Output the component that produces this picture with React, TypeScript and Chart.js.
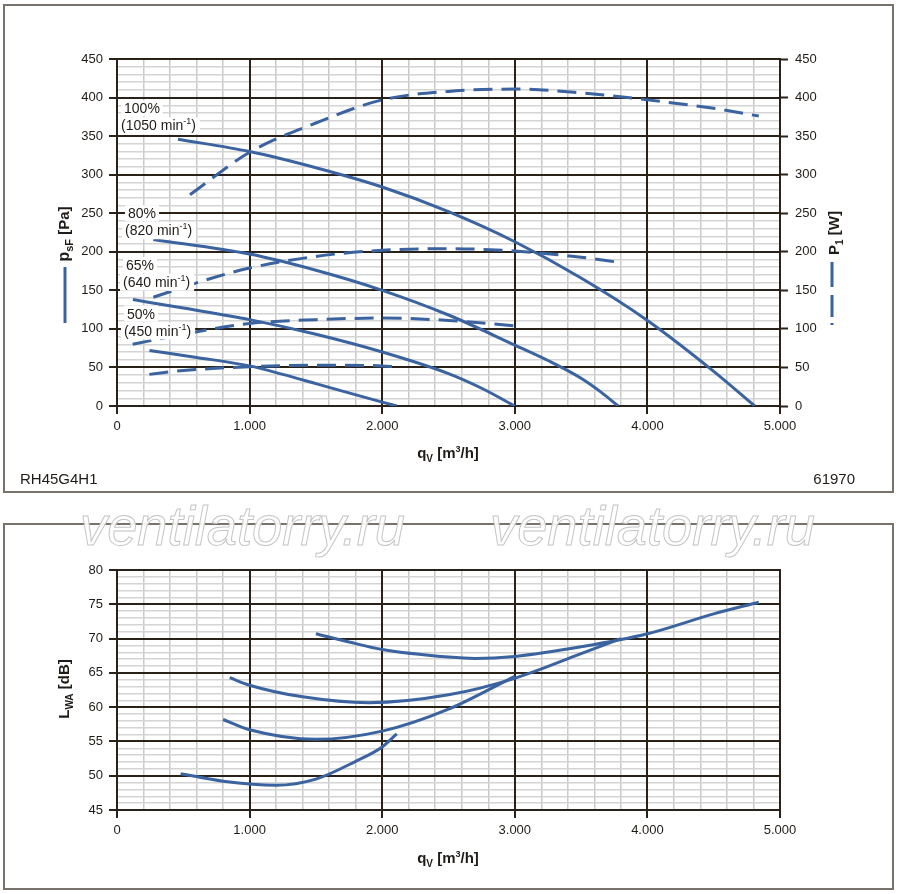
import React, { useEffect, useRef } from 'react';
import { Chart, ChartConfiguration, Plugin, registerables } from 'chart.js';

Chart.register(...registerables);

const BLUE = '#3a63a0';
const GRID_DARK = '#2a2118';
const GRID_LIGHT_V = '#c9c9c9';
const GRID_LIGHT_H = '#d4d4d4';
const TEXT = '#1f1b17';
const FONT = '"Liberation Sans", Arial, Helvetica, sans-serif';

// --- static pressure psF [Pa] over airflow qV [m³/h], one curve per speed
const q100 = [460, 1000, 1500, 2000, 2500, 3000, 3500, 4000, 4500, 4810];
const p100 = [346, 330, 309, 284, 252, 213, 166, 111, 45, 0];
const q80 = [274, 1000, 1500, 2000, 2500, 3000, 3250, 3500, 3650, 3780];
const p80 = [216, 197, 176, 150, 118, 79, 59, 36, 18, 0];
const q65 = [120, 500, 1000, 1500, 2000, 2500, 2750, 3000];
const p65 = [138, 127, 112, 93, 70, 42, 23, 0];
const q50 = [245, 600, 1000, 1250, 1500, 2000, 2110];
const p50 = [72, 63, 52, 41, 29, 5, 0];

// --- power input P1 [W]
const wq100 = [550, 1000, 1500, 2000, 2500, 3000, 3500, 4000, 4500, 4840];
const w100 = [274, 329, 367, 397, 408, 411, 406, 397, 386, 376];
const wq80 = [274, 700, 1000, 1500, 2000, 2500, 3000, 3500, 3800];
const w80 = [141, 165, 179, 194, 202, 204, 201, 193, 186];
const wq65 = [118, 500, 1000, 1500, 2000, 2500, 3000];
const w65 = [80, 93, 107, 112, 114, 111, 104];
const wq50 = [244, 500, 1000, 1500, 2000, 2100];
const w50 = [41, 46, 51, 53, 52, 51];

// --- sound power LWA [dB]
const lq100 = [1500, 1750, 2000, 2500, 2700, 3000, 3500, 4000, 4500, 4840];
const l100 = [70.7, 69.5, 68.4, 67.3, 67.1, 67.4, 68.8, 70.7, 73.6, 75.3];
const lq80 = [850, 1000, 1400, 1900, 2500, 3000, 3500, 3800];
const l80 = [64.3, 63.2, 61.5, 60.65, 61.8, 64.2, 67.8, 70];
const lq65 = [800, 1000, 1500, 2000, 2500, 3000];
const l65 = [58.2, 56.7, 55.3, 56.5, 59.7, 64.5];
const lq50 = [480, 800, 1200, 1500, 1800, 2000, 2110];
const l50 = [50.3, 49.2, 48.6, 49.5, 52.1, 54.2, 56.1];

// speed labels, anchored in data coordinates (qV, psF)
const speedPct = ['100%', '80%', '65%', '50%'];
const speedRpm = ['1050', '820', '640', '450'];
const labelQ = [53, 83, 68, 75];
const labelP = [386, 250, 183, 120];

const pts = (xs: number[], ys: number[]) => xs.map((x, i) => ({ x, y: ys[i] }));

const fmtQ = (v: number) => (v === 0 ? '0' : `${v / 1000}.000`);

type Part = { t: string; size: number; dy?: number };

function drawParts(
  ctx: CanvasRenderingContext2D,
  parts: Part[],
  x: number,
  y: number,
  align: 'left' | 'center' | 'right',
  bold = false,
  rotate = false
) {
  const weight = bold ? 'bold ' : '';
  const widths = parts.map(p => {
    ctx.font = `${weight}${p.size}px ${FONT}`;
    return ctx.measureText(p.t).width;
  });
  const total = widths.reduce((a, b) => a + b, 0);
  const mainSize = parts[0].size;
  ctx.save();
  ctx.translate(x, y);
  if (rotate) ctx.rotate(-Math.PI / 2);
  let cx = align === 'left' ? 0 : align === 'center' ? -total / 2 : -total;
  const base = mainSize * 0.36;
  ctx.textBaseline = 'alphabetic';
  ctx.textAlign = 'left';
  ctx.fillStyle = TEXT;
  parts.forEach((p, i) => {
    ctx.font = `${weight}${p.size}px ${FONT}`;
    ctx.fillText(p.t, cx, base + (p.dy || 0));
    cx += widths[i];
  });
  ctx.restore();
  return total;
}

const gridFor = (isMajor: (v: number) => boolean, light: string) => ({
  color: (c: any) => (isMajor(c.tick?.value) ? GRID_DARK : light),
  lineWidth: (c: any) => (isMajor(c.tick?.value) ? 2 : 1.5),
  tickColor: (c: any) => (isMajor(c.tick?.value) ? GRID_DARK : 'rgba(0,0,0,0)'),
  tickWidth: 2,
  tickLength: 8,
});

const tickFont = { family: FONT, size: 13 };

// redraw the thousand lines on top of the light horizontal grid
const majorVerticals: Plugin<'line'> = {
  id: 'majorVerticals',
  beforeDatasetsDraw(chart) {
    const { ctx, chartArea, scales } = chart;
    const xs = scales.x;
    ctx.save();
    ctx.strokeStyle = GRID_DARK;
    ctx.lineWidth = 2;
    xs.ticks.forEach(t => {
      if (t.value % 1000 !== 0) return;
      const px = Math.round(xs.getPixelForValue(t.value));
      ctx.beginPath();
      ctx.moveTo(px, chartArea.top - 1);
      ctx.lineTo(px, chartArea.bottom + 1);
      ctx.stroke();
    });
    ctx.restore();
  },
};

const xScale = (height: number) => ({
  type: 'linear' as const,
  min: 0,
  max: 5000,
  afterFit: (s: any) => {
    s.height = height;
  },
  ticks: {
    stepSize: 200,
    autoSkip: false,
    maxRotation: 0,
    padding: 5,
    color: TEXT,
    font: tickFont,
    callback: (v: any) => (v % 1000 === 0 ? fmtQ(v) : ''),
  },
  grid: gridFor(v => v % 1000 === 0, GRID_LIGHT_V),
  border: { color: GRID_DARK, width: 2 },
});

const topDecor: Plugin<'line'> = {
  id: 'topDecor',
  afterDatasetsDraw(chart) {
    const { ctx, scales } = chart;
    const xs = scales.x;
    const ys = scales.y;
    speedPct.forEach((pct, i) => {
      const x = xs.getPixelForValue(labelQ[i]);
      const y = ys.getPixelForValue(labelP[i]);
      ctx.save();
      ctx.font = `14px ${FONT}`;
      const w1 = ctx.measureText(pct).width;
      ctx.fillStyle = '#fff';
      ctx.fillRect(x - 3, y - 8, w1 + 6, 16);
      const parts: Part[] = [
        { t: `(${speedRpm[i]} min`, size: 14 },
        { t: '-1', size: 9, dy: -6 },
        { t: ')', size: 14 },
      ];
      let w2 = 0;
      parts.forEach(p => {
        ctx.font = `${p.size}px ${FONT}`;
        w2 += ctx.measureText(p.t).width;
      });
      ctx.fillRect(x - 6, y + 9, w2 + 7, 17);
      ctx.restore();
      drawParts(ctx, [{ t: pct, size: 14 }], x, y, 'left');
      drawParts(ctx, parts, x - 3, y + 17, 'left');
    });
  },
  afterDraw(chart) {
    const { ctx } = chart;
    drawParts(
      ctx,
      [
        { t: 'p', size: 16 },
        { t: 'sF', size: 11, dy: 4 },
        { t: ' [Pa]', size: 15 },
      ],
      63,
      234,
      'center',
      true,
      true
    );
    drawParts(
      ctx,
      [
        { t: 'P', size: 15 },
        { t: '1', size: 10, dy: 4 },
        { t: ' [W]', size: 15 },
      ],
      834,
      233,
      'center',
      true,
      true
    );
    drawParts(
      ctx,
      [
        { t: 'q', size: 15 },
        { t: 'V', size: 10, dy: 4 },
        { t: ' [m', size: 15 },
        { t: '3', size: 9, dy: -6 },
        { t: '/h]', size: 15 },
      ],
      448,
      453,
      'center',
      true
    );
    drawParts(ctx, [{ t: 'RH45G4H1', size: 15 }], 20, 479, 'left');
    drawParts(ctx, [{ t: '61970', size: 15 }], 855, 479, 'right');

    ctx.save();
    ctx.strokeStyle = BLUE;
    ctx.lineWidth = 3;
    ctx.beginPath();
    ctx.moveTo(65, 267);
    ctx.lineTo(65, 323);
    ctx.stroke();
    ctx.setLineDash([25, 8, 22, 6, 2, 100]);
    ctx.beginPath();
    ctx.moveTo(832, 262);
    ctx.lineTo(832, 326);
    ctx.stroke();
    ctx.restore();
  },
};

const bottomDecor: Plugin<'line'> = {
  id: 'bottomDecor',
  afterDraw(chart) {
    const { ctx } = chart;
    drawParts(
      ctx,
      [
        { t: 'L', size: 15 },
        { t: 'WA', size: 10, dy: 4 },
        { t: ' [dB]', size: 15 },
      ],
      64,
      189,
      'center',
      true,
      true
    );
    drawParts(
      ctx,
      [
        { t: 'q', size: 15 },
        { t: 'V', size: 10, dy: 4 },
        { t: ' [m', size: 15 },
        { t: '3', size: 9, dy: -6 },
        { t: '/h]', size: 15 },
      ],
      448,
      358,
      'center',
      true
    );
  },
};

const solid = (xs: number[], ys: number[], axis = 'y') => ({
  data: pts(xs, ys),
  yAxisID: axis,
  borderColor: BLUE,
  borderWidth: 3,
  pointRadius: 0,
  cubicInterpolationMode: 'monotone',
  fill: false,
});

const dashed = (xs: number[], ys: number[]) => ({
  ...solid(xs, ys, 'y1'),
  borderDash: [19, 9],
});

const topConfig = (): ChartConfiguration<'line'> => ({
  type: 'line',
  data: {
    datasets: [
      solid(q100, p100),
      solid(q80, p80),
      solid(q65, p65),
      solid(q50, p50),
      dashed(wq100, w100),
      dashed(wq80, w80),
      dashed(wq65, w65),
      dashed(wq50, w50),
    ] as any,
  },
  options: {
    animation: false,
    responsive: false,
    events: [],
    layout: { autoPadding: false, padding: { top: 59, left: 0, right: 0, bottom: 0 } },
    plugins: { legend: { display: false }, tooltip: { enabled: false } },
    scales: {
      x: xScale(94),
      y: {
        type: 'linear',
        position: 'left',
        min: 0,
        max: 450,
        afterFit: (s: any) => {
          s.width = 117;
        },
        ticks: {
          stepSize: 10,
          autoSkip: false,
          padding: 6,
          color: TEXT,
          font: tickFont,
          callback: (v: any) => (v % 50 === 0 ? String(v) : ''),
        },
        grid: gridFor(v => v % 50 === 0, GRID_LIGHT_H),
        border: { color: GRID_DARK, width: 2 },
      },
      y1: {
        type: 'linear',
        position: 'right',
        min: 0,
        max: 450,
        afterFit: (s: any) => {
          s.width = 120;
        },
        ticks: { stepSize: 50, autoSkip: false, padding: 7, color: TEXT, font: tickFont },
        grid: { drawOnChartArea: false, tickLength: 8, tickColor: GRID_DARK, tickWidth: 2 },
        border: { color: GRID_DARK, width: 2 },
      },
    } as any,
  },
  plugins: [majorVerticals, topDecor],
});

const bottomConfig = (): ChartConfiguration<'line'> => ({
  type: 'line',
  data: {
    datasets: [solid(lq100, l100), solid(lq80, l80), solid(lq65, l65), solid(lq50, l50)] as any,
  },
  options: {
    animation: false,
    responsive: false,
    events: [],
    layout: { autoPadding: false, padding: { top: 70, left: 0, right: 120, bottom: 0 } },
    plugins: { legend: { display: false }, tooltip: { enabled: false } },
    scales: {
      x: xScale(84),
      y: {
        type: 'linear',
        position: 'left',
        min: 45,
        max: 80,
        afterFit: (s: any) => {
          s.width = 117;
        },
        ticks: {
          stepSize: 1,
          autoSkip: false,
          padding: 6,
          color: TEXT,
          font: tickFont,
          callback: (v: any) => (v % 5 === 0 ? String(v) : ''),
        },
        grid: gridFor(v => v % 5 === 0, GRID_LIGHT_H),
        border: { color: GRID_DARK, width: 2 },
      },
    } as any,
  },
  plugins: [majorVerticals, bottomDecor],
});

const ChartCanvas: React.FC<{
  make: () => ChartConfiguration<'line'>;
  top: number;
  height: number;
}> = ({ make, top, height }) => {
  const ref = useRef<HTMLCanvasElement>(null);
  useEffect(() => {
    if (!ref.current) return;
    const chart = new Chart(ref.current, make());
    return () => chart.destroy();
  }, [make]);
  return (
    <canvas
      ref={ref}
      width={900}
      height={height}
      style={{ position: 'absolute', left: 0, top, width: 900, height }}
    />
  );
};

const panel = (top: number, height: number): React.CSSProperties => ({
  position: 'absolute',
  left: 3,
  top,
  width: 891,
  height,
  border: '2px solid #77726b',
  boxSizing: 'border-box',
});

const watermark = (left: number): React.CSSProperties => ({
  position: 'absolute',
  left,
  top: 493,
  font: `italic 56px ${FONT}`,
  color: 'rgba(255,255,255,0.9)',
  WebkitTextStroke: '1px #c4c4c4',
  whiteSpace: 'nowrap',
  transform: 'scaleX(0.97)',
  transformOrigin: 'left top',
  pointerEvents: 'none',
});

export default function App() {
  return (
    <div
      style={{
        position: 'absolute',
        left: 0,
        top: 0,
        width: 900,
        height: 894,
        background: '#fff',
        overflow: 'hidden',
      }}
    >
      <div style={panel(4, 489)} />
      <div style={panel(523, 367)} />
      <ChartCanvas make={topConfig} top={0} height={500} />
      <ChartCanvas make={bottomConfig} top={500} height={394} />
      <div style={watermark(80)}>ventilatorry.ru</div>
      <div style={watermark(490)}>ventilatorry.ru</div>
    </div>
  );
}
